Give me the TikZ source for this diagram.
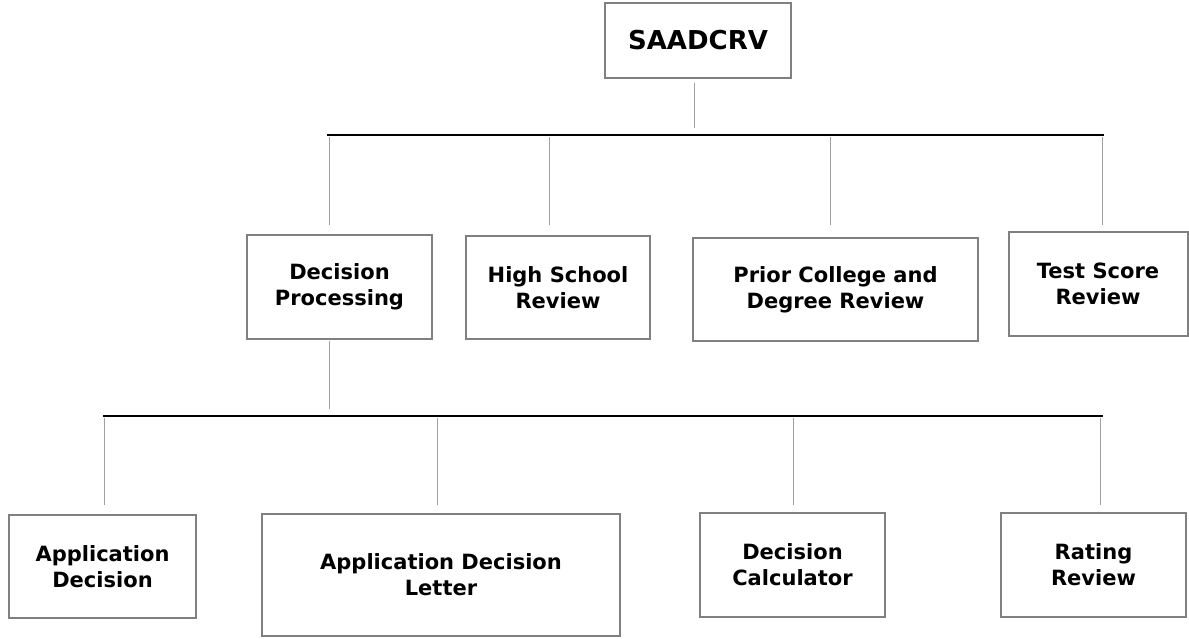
\documentclass[tikz,border=0pt]{standalone}
\usepackage{fontspec}
\setmainfont{DejaVu Sans}
\definecolor{boxgray}{HTML}{808080}
\definecolor{linegray}{HTML}{A0A0A0}
\tikzset{
    box/.style={ % Sets the properties for each box
        draw=boxgray,
        line width=2pt,
        inner sep=0pt,
        align=center,
        font=\bfseries\fontsize{21}{26}\selectfont
    },
    link/.style={draw=linegray, line width=1pt}, % thin gray connectors
    bus/.style={draw=black, line width=2pt} % horizontal bars
}

\begin{document}
\begin{tikzpicture}[x=1pt, y=-1pt]
            \useasboundingbox (0,0) rectangle (1189,638);

            \node[box, minimum width=186, minimum height=75, font=\bfseries\fontsize{26}{30}\selectfont] (root) at (698,40.5) {SAADCRV};

            \node[box, minimum width=185, minimum height=104] (dp) at (339.5,287) {Decision\\Processing};
            \node[box, minimum width=184, minimum height=103] (hs) at (558,287.5) {High School\\Review};
            \node[box, minimum width=285, minimum height=103] (pc) at (835.5,289.5) {Prior College and\\Degree Review};
            \node[box, minimum width=179, minimum height=104] (ts) at (1098,284) {Test Score\\Review};

            \node[box, minimum width=187, minimum height=103] (ad) at (102.5,566.5) {Application\\Decision};
            \node[box, minimum width=358, minimum height=122] (adl) at (441,575) {Application Decision\\Letter};
            \node[box, minimum width=185, minimum height=104] (dc) at (792.5,565) {Decision\\Calculator};
            \node[box, minimum width=185, minimum height=104] (rr) at (1093.5,565) {Rating\\Review};

            % first level
            \coordinate (root out) at (694,83);
            \coordinate (root in) at (694,128);
            \draw[link] (root out) -- (root in);
            \coordinate (bus1 west) at (327,135);
            \coordinate (bus1 east) at (1104,135);
            \draw[bus] (bus1 west) -- (bus1 east);
            \foreach \x/\name in {329/dp, 549/hs, 830/pc, 1102/ts} {
                \coordinate (\name top) at (\x,137);
                \coordinate (\name end) at (\x,225);
                \draw[link] (\name top) -- (\name end);
            }

            % second level
            \coordinate (dp out) at (329,341);
            \coordinate (dp in) at (329,409);
            \draw[link] (dp out) -- (dp in);
            \coordinate (bus2 west) at (103,416);
            \coordinate (bus2 east) at (1103,416);
            \draw[bus] (bus2 west) -- (bus2 east);
            \foreach \x/\name in {104/ad, 437/adl, 793/dc, 1100/rr} {
                \coordinate (\name top) at (\x,418);
                \coordinate (\name end) at (\x,505);
                \draw[link] (\name top) -- (\name end);
            }
\end{tikzpicture}
\end{document}
